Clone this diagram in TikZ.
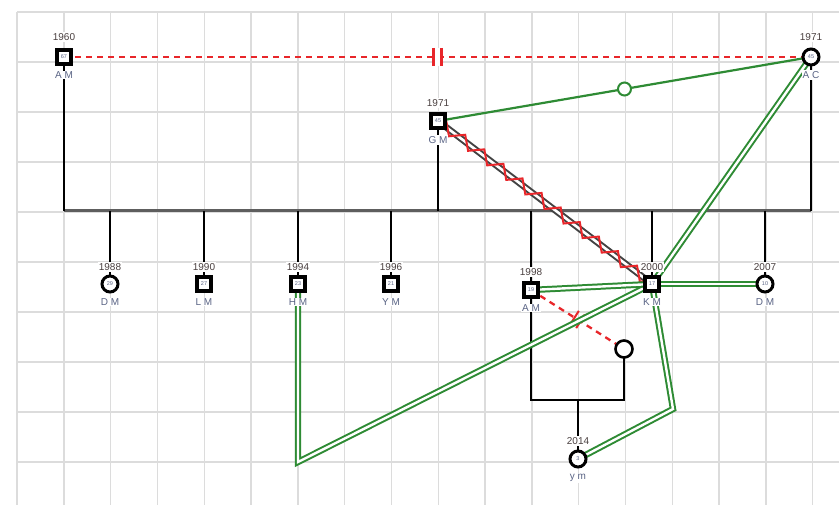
\documentclass[tikz,border=0pt]{standalone}
\usepackage{fontspec}
\setmainfont{Liberation Sans}
\usetikzlibrary{decorations.pathmorphing,calc}
\definecolor{gridc}{HTML}{DCDCDC}
\definecolor{grn}{HTML}{2E8B34}
\definecolor{rd}{HTML}{E8262A}
\definecolor{yearc}{HTML}{4A4040}
\definecolor{namec}{HTML}{5A6485}
\definecolor{tlc}{HTML}{5E5E5E}
\begin{document}
\begin{tikzpicture}[x=1pt,y=-1pt,
  sq/.style={draw=black,line width=3.2pt,fill=white,minimum size=14pt,inner sep=0pt,font=\fontsize{5.5}{5.5}\selectfont,text=namec},
  circ/.style={circle,draw=black,line width=3pt,fill=white,minimum size=16pt,inner sep=0pt,font=\fontsize{5.5}{5.5}\selectfont,text=namec},
  yr/.style={fill=white,inner sep=1pt,font=\fontsize{10}{10}\selectfont,text=yearc},
  nm/.style={fill=white,inner sep=1pt,font=\fontsize{10}{10}\selectfont,text=namec},
  gdl/.style={draw=grn,double=white,line width=2pt,double distance=2.4pt},
  blk/.style={draw=black,line width=2.8pt},
  rdash/.style={draw=rd,line width=2.3pt,dash pattern=on 6pt off 5pt},
]
\useasboundingbox (0,0) rectangle (839,505);
\fill[white] (0,0) rectangle (839,505);
% grid
\foreach \i in {0,...,17} \draw[gridc,line width=1.4pt] ({17+46.8*\i},12) -- ({17+46.8*\i},505);
\foreach \j in {0,...,9} \draw[gridc,line width=1.4pt] (17,{12+50*\j}) -- (839,{12+50*\j});

% node positions (coordinates)
\coordinate (pam60) at (64,57);
\coordinate (pac) at (811,57);
\coordinate (pgm) at (438,121);
\coordinate (pdm88) at (110,284);
\coordinate (plm) at (204,284);
\coordinate (phm) at (298,284);
\coordinate (pym96) at (391,284);
\coordinate (pam98) at (531,290);
\coordinate (pkm) at (652,284);
\coordinate (pdm07) at (765,284);
\coordinate (pym14) at (578,459);
\coordinate (punk) at (624,349);
\coordinate (hmc) at (298,462);
\coordinate (kmc) at (673,409);
\coordinate (fl) at (531,400);
\coordinate (fc) at (578,400);

% timeline
\draw[tlc,line width=3pt] (64,211) coordinate (tl0) -- (811,211) coordinate (tl1);
\draw[blk] (pam60) -- (64,211);
\draw[blk] (pac) -- (811,211);
\draw[blk] (pgm) -- (438,211);
\foreach \x/\n in {110/pdm88,204/plm,298/phm,391/pym96,531/pam98,652/pkm,765/pdm07}
  \draw[blk] (\x,211) -- (\n);

% family of 1998 A M
\draw[black,line width=2pt] (pam98) -- (fl) -| (punk);
\draw[blk] (fc) -- (pym14);

% red dashed relations
\draw[rdash] (pam60) -- (pac);
\coordinate (mk1) at ($(pam60)!0.5!(pac)$);
\fill[white] ($(mk1)+(-3.5,-9)$) rectangle ($(mk1)+(3.5,9)$);
\draw[rd,line width=2.3pt] ($(mk1)+(-4,-9)$) -- ($(mk1)+(-4,9)$);
\draw[rd,line width=2.3pt] ($(mk1)+(4,-9)$) -- ($(mk1)+(4,9)$);

\draw[rdash] (pam98) -- (punk);
\coordinate (mk2) at ($(pam98)!0.5!(punk)$);
\coordinate (b1) at ($(mk2)!-3.5pt!(punk)$);
\coordinate (b2) at ($(mk2)!3.5pt!(punk)$);
\draw[rd,line width=2pt] ($(b1)!8pt!90:(punk)$) -- ($(b1)!8pt!-90:(punk)$);
\draw[rd,line width=2pt] ($(b2)!8pt!90:(punk)$) -- ($(b2)!8pt!-90:(punk)$);

% gray zigzag relation
\draw[draw=tlc!70!black,double=white,line width=2pt,double distance=2.6pt] (pgm) -- (pkm);
\draw[rd,line width=2pt,decorate,decoration={zigzag,segment length=24pt,amplitude=5.5pt}] (pgm) -- (pkm);

% green relations
\draw[grn,line width=2.2pt] (pgm) -- (pac) node[midway,circle,draw=grn,fill=white,line width=2pt,minimum size=13pt,inner sep=0pt]{};
\draw[gdl] (pkm) -- (pac);
\draw[gdl] (phm) -- (hmc) -- (pkm);
\draw[gdl] (pkm) -- (kmc) -- (pym14);
\draw[gdl] (pam98) -- (pkm);
\draw[gdl] (pkm) -- (pdm07);

% persons
\node[sq] (am60) at (pam60) {67};
\node[circ] (ac) at (pac) {45};
\node[sq] (gm) at (pgm) {45};
\node[circ] (dm88) at (pdm88) {29};
\node[sq] (lm) at (plm) {27};
\node[sq] (hm) at (phm) {23};
\node[sq] (ym96) at (pym96) {21};
\node[sq] (am98) at (pam98) {19};
\node[sq] (km) at (pkm) {17};
\node[circ] (dm07) at (pdm07) {10};
\node[circ] (ym14) at (pym14) {3};
\node[circle,draw=black,line width=2.6pt,fill=white,minimum size=17pt,inner sep=0pt] (unk) at (punk) {};

% labels
\node[yr] (y1) at (64,37) {1960};   \node[nm] (n1) at (64,75) {A M};
\node[yr] (y2) at (811,37) {1971};  \node[nm] (n2) at (811,75) {A C};
\node[yr] (y3) at (438,103) {1971}; \node[nm] (n3) at (438,140) {G M};
\node[yr] (y4) at (110,267) {1988}; \node[nm] (n4) at (110,302) {D M};
\node[yr] (y5) at (204,267) {1990}; \node[nm] (n5) at (204,302) {L M};
\node[yr] (y6) at (298,267) {1994}; \node[nm] (n6) at (298,302) {H M};
\node[yr] (y7) at (391,267) {1996}; \node[nm] (n7) at (391,302) {Y M};
\node[yr] (y8) at (531,272) {1998}; \node[nm] (n8) at (531,308) {A M};
\node[yr] (y9) at (652,267) {2000}; \node[nm] (n9) at (652,302) {K M};
\node[yr] (y10) at (765,267) {2007}; \node[nm] (n10) at (765,302) {D M};
\node[yr] (y11) at (578,441) {2014}; \node[nm] (n11) at (578,478) {y m};
\end{tikzpicture}
\end{document}
